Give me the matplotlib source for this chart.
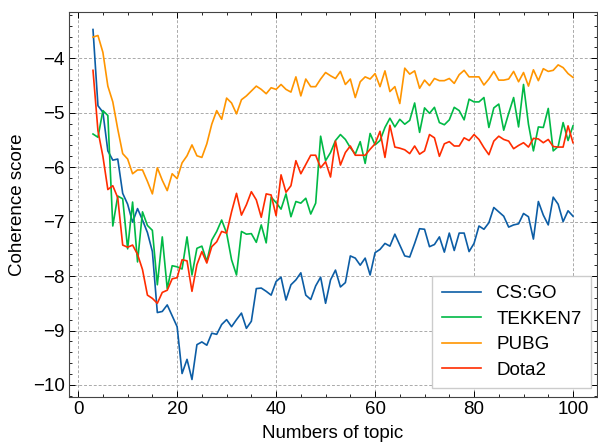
import matplotlib
matplotlib.use("Agg")
import matplotlib.pyplot as plt
from matplotlib.ticker import MultipleLocator

plt.rcParams['font.family'] = ['Liberation Sans', 'DejaVu Sans']
plt.rcParams['font.size'] = 13.5

topics = list(range(3, 101))

csgo = [-3.47, -4.87, -4.99, -5.70, -5.87, -5.85, -6.48, -6.68, -7.01, -6.76,
        -6.97, -7.20, -7.55, -8.67, -8.65, -8.53, -8.73, -8.93, -9.79, -9.53,
        -9.90, -9.26, -9.21, -9.27, -9.05, -9.07, -8.89, -8.80, -8.93, -8.80,
        -8.68, -8.96, -8.83, -8.23, -8.22, -8.28, -8.35, -8.10, -8.02, -8.44,
        -8.16, -8.07, -7.94, -8.35, -8.43, -8.18, -8.02, -8.50, -8.07, -7.89,
        -8.20, -8.12, -7.63, -7.67, -7.80, -7.67, -7.98, -7.57, -7.51, -7.40,
        -7.45, -7.23, -7.43, -7.63, -7.65, -7.40, -7.13, -7.14, -7.46, -7.42,
        -7.28, -7.56, -7.21, -7.53, -7.21, -7.21, -7.55, -7.40, -7.08, -7.14,
        -7.02, -6.74, -6.82, -6.90, -7.10, -7.06, -7.04, -6.85, -6.91, -7.32,
        -6.63, -6.88, -7.06, -6.55, -6.68, -7.00, -6.80, -6.90]

tekken7 = [-5.39, -5.45, -4.96, -5.05, -7.08, -6.53, -6.58, -7.50, -6.64, -7.74,
           -6.82, -7.07, -7.16, -8.16, -7.28, -8.23, -7.81, -7.83, -7.87, -7.28,
           -7.98, -7.49, -7.45, -7.73, -7.34, -7.18, -6.97, -7.21, -7.70, -7.98,
           -7.18, -7.23, -7.22, -7.38, -7.06, -7.39, -6.55, -6.65, -6.77, -6.49,
           -6.91, -6.63, -6.66, -6.57, -6.86, -6.66, -5.43, -5.88, -5.73, -5.51,
           -5.40, -5.49, -5.64, -5.76, -5.53, -5.93, -5.38, -5.59, -5.51, -5.27,
           -5.10, -5.26, -5.12, -5.21, -5.14, -4.82, -5.36, -4.91, -5.01, -4.90,
           -5.18, -5.22, -5.13, -4.90, -4.96, -5.13, -4.75, -4.80, -4.80, -4.72,
           -5.27, -4.91, -4.84, -5.32, -5.01, -4.72, -5.26, -4.48, -5.21, -5.70,
           -5.26, -5.27, -4.92, -5.70, -5.62, -5.18, -5.51, -5.24]

pubg = [-3.61, -3.58, -3.89, -4.51, -4.80, -5.30, -5.75, -5.85, -6.12, -6.05,
        -6.05, -6.26, -6.49, -6.01, -6.24, -6.43, -6.12, -6.21, -5.92, -5.79,
        -5.59, -5.79, -5.82, -5.57, -5.21, -4.96, -5.12, -4.73, -4.82, -5.02,
        -4.76, -4.69, -4.60, -4.51, -4.57, -4.65, -4.54, -4.57, -4.48, -4.57,
        -4.62, -4.34, -4.69, -4.38, -4.52, -4.52, -4.38, -4.26, -4.32, -4.37,
        -4.24, -4.48, -4.38, -4.72, -4.43, -4.34, -4.38, -4.28, -4.52, -4.23,
        -4.61, -4.52, -4.83, -4.18, -4.29, -4.23, -4.55, -4.40, -4.50, -4.37,
        -4.41, -4.41, -4.37, -4.46, -4.30, -4.22, -4.34, -4.34, -4.34, -4.49,
        -4.38, -4.24, -4.40, -4.40, -4.38, -4.24, -4.43, -4.26, -4.51, -4.21,
        -4.41, -4.19, -4.24, -4.22, -4.12, -4.17, -4.28, -4.35]

dota2 = [-4.22, -5.33, -5.80, -6.41, -6.34, -6.56, -7.43, -7.47, -7.43, -7.60,
         -7.88, -8.35, -8.41, -8.50, -8.30, -8.26, -8.05, -8.03, -7.70, -7.72,
         -8.28, -7.79, -7.55, -7.76, -7.46, -7.37, -7.18, -7.21, -6.82, -6.48,
         -6.88, -6.69, -6.45, -6.60, -6.92, -6.49, -6.51, -6.89, -6.14, -6.46,
         -6.34, -5.88, -6.12, -5.95, -5.78, -5.78, -6.01, -5.90, -6.18, -5.52,
         -5.96, -5.73, -5.61, -5.78, -5.78, -5.78, -5.67, -5.57, -5.34, -5.82,
         -5.23, -5.63, -5.65, -5.68, -5.75, -5.61, -5.76, -5.70, -5.40, -5.46,
         -5.80, -5.57, -5.53, -5.61, -5.61, -5.46, -5.51, -5.40, -5.49, -5.64,
         -5.77, -5.52, -5.43, -5.49, -5.52, -5.66, -5.60, -5.55, -5.63, -5.47,
         -5.48, -5.55, -5.49, -5.62, -5.63, -5.63, -5.24, -5.55]

series_names = ["CS:GO", "TEKKEN7", "PUBG", "Dota2"]
series_values = [csgo, tekken7, pubg, dota2]
colors = ["#0C5DA5", "#00B945", "#FF9500", "#FF2C00"]

fig = plt.figure(figsize=(5.98, 4.43), dpi=100)
ax = fig.add_axes([69/598, 1 - 397/443, (597 - 69)/598, (397 - 12)/443])

for name, vals, c in zip(series_names, series_values, colors):
    ax.plot(topics, vals, color=c, lw=1.2, label=name, zorder=3)

ax.set_xlabel("Numbers of topic", labelpad=5)
ax.set_ylabel("Coherence score", labelpad=5)

ax.xaxis.set_major_locator(MultipleLocator(20))
ax.xaxis.set_minor_locator(MultipleLocator(5))
ax.yaxis.set_major_locator(MultipleLocator(1))
ax.yaxis.set_minor_locator(MultipleLocator(0.2))
ax.tick_params(which='both', direction='in', top=True, right=True, pad=3)
ax.tick_params(which='major', length=4.5, width=0.7)
ax.tick_params(which='minor', length=2.5, width=0.6)
for s in ax.spines.values():
    s.set_linewidth(0.8)
    s.set_color('#444444')

ax.grid(True, which='major', linestyle=(0, (3, 2)), color='#aaaaaa', linewidth=0.7, zorder=0)

leg = ax.legend(loc='lower right', fancybox=False, edgecolor='#cccccc',
                framealpha=1, handlelength=2.1, handletextpad=0.8,
                borderpad=0.5, labelspacing=0.45, fontsize=13.5,
                borderaxespad=0, bbox_to_anchor=(0.9886, 0.023))
leg.get_frame().set_linewidth(1.0)

fig.savefig("out.png", dpi=100)
